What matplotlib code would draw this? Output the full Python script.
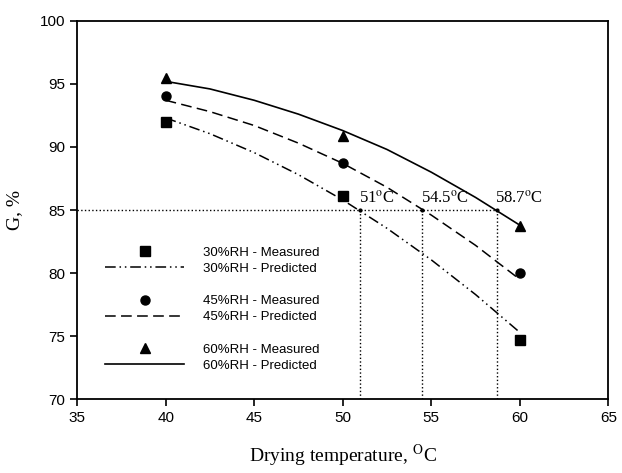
import matplotlib.pyplot as plt
from matplotlib.lines import Line2D

plt.rcParams['font.family'] = ['Liberation Sans', 'DejaVu Sans']
plt.rcParams['mathtext.fontset'] = 'stix'

# measured points
temp = [40, 50, 60]
g30_meas = [92.0, 86.1, 74.7]
g45_meas = [94.0, 88.7, 80.0]
g60_meas = [95.5, 90.9, 83.7]

# predicted curves
temp_pred = [40, 42.5, 45, 47.5, 50, 52.5, 55, 57.5, 60]
g30_pred = [92.3, 91.05, 89.55, 87.8, 85.8, 83.55, 81.05, 78.3, 75.3]
g45_pred = [93.7, 92.8, 91.7, 90.3, 88.7, 86.8, 84.6, 82.2, 79.5]
g60_pred = [95.2, 94.6, 93.7, 92.6, 91.3, 89.8, 88.0, 86.0, 83.8]

# temperatures where G = 85 %
g_target = 85
cross_temp = [51, 54.5, 58.7]
cross_labels = ['51', '54.5', '58.7']

fig = plt.figure(figsize=(6.22, 4.73), dpi=100)
ax = fig.add_axes([0.124, 0.156, 0.854, 0.8])

ax.plot(temp_pred, g30_pred, color='black', lw=1.1, dashes=(7, 2.5, 1, 2.5, 1, 2.5))
ax.plot(temp_pred, g45_pred, color='black', lw=1.1, dashes=(7, 3.5))
ax.plot(temp_pred, g60_pred, color='black', lw=1.2)

ax.plot(temp, g30_meas, 's', color='black', ms=6.5, ls='none')
ax.plot(temp, g45_meas, 'o', color='black', ms=6.5, ls='none')
ax.plot(temp, g60_meas, '^', color='black', ms=7.5, ls='none')

# dotted guide lines
ax.plot([35, cross_temp[-1]], [g_target, g_target], color='black', lw=1, ls=':')
for t, lab in zip(cross_temp, cross_labels):
    ax.plot([t, t], [70, g_target], color='black', lw=1, ls=':')
    ax.plot(t, g_target, 'o', color='black', ms=2)
    ax.text(t - 0.1, g_target + 0.3, lab + r'$^{\mathrm{o}}$C', family='Liberation Serif',
            fontsize=12, ha='left', va='bottom')

blank = Line2D([], [], ls='none')
handles = [
    Line2D([], [], marker='s', color='black', ms=6.5, ls='none'),
    Line2D([], [], color='black', lw=1.1, dashes=(7, 2.5, 1, 2.5, 1, 2.5)),
    blank,
    Line2D([], [], marker='o', color='black', ms=6.5, ls='none'),
    Line2D([], [], color='black', lw=1.1, dashes=(7, 3.5)),
    blank,
    Line2D([], [], marker='^', color='black', ms=7.5, ls='none'),
    Line2D([], [], color='black', lw=1.2),
]
labels = ['30%RH - Measured', '30%RH - Predicted', '',
          '45%RH - Measured', '45%RH - Predicted', '',
          '60%RH - Measured', '60%RH - Predicted']
ax.legend(handles, labels, loc='upper left', bbox_to_anchor=(0.03, 0.435),
          frameon=False, fontsize=9.5, handlelength=6.0, handletextpad=1.4,
          labelspacing=0.3)

ax.set_xlim(35, 65)
ax.set_ylim(70, 100)
ax.set_xticks([35, 40, 45, 50, 55, 60, 65])
ax.set_yticks([70, 75, 80, 85, 90, 95, 100])
ax.tick_params(direction='out', length=5, width=1.2, labelsize=11)
for s in ax.spines.values():
    s.set_linewidth(1.3)

ax.set_xlabel(r'Drying temperature, $^{\rm O}$C', family='Liberation Serif', fontsize=14,
              labelpad=13)
ax.set_ylabel('G, %', family='Liberation Serif', fontsize=14, labelpad=12)

fig.savefig('out.png', dpi=100)
